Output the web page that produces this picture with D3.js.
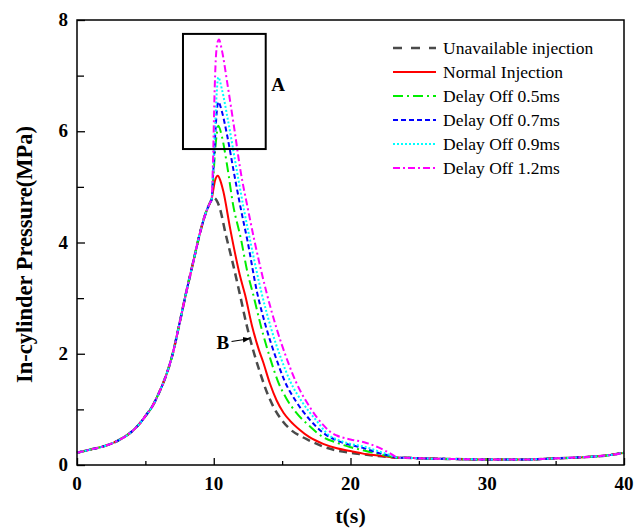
<!DOCTYPE html>
<html>
  <head>
    <meta charset="utf-8">
    <script src="https://cdn.jsdelivr.net/npm/d3@7"></script>
    <style>
      body { margin: 0; background: #fff; }
      text { font-family: "Liberation Serif", "Times New Roman", serif; }
    </style>
  </head>
  <body>
    <svg width="634" height="530"></svg>

    <script type="text/javascript">
      // legend labels, one per curve
      var names = ['Unavailable injection', 'Normal Injection', 'Delay Off 0.5ms',
                   'Delay Off 0.7ms', 'Delay Off 0.9ms', 'Delay Off 1.2ms'];

      // compression stroke, same for every curve (t, MPa)
      var rise = [[0,0.22],[1,0.28],[2,0.34],[3,0.44],[4,0.6],[4.6,0.75],[5,0.88],[5.5,1.05],
                  [6,1.3],[6.5,1.6],[7,2.0],[7.5,2.55],[8,3.12],[8.5,3.65],[9,4.18],
                  [9.4,4.52],[9.7,4.7],[9.84,4.77]];

      // each curve after the kink
      var unavailable = [[10.0,4.8],[10.4,4.65],[10.9,4.12],[11.4,3.62],[11.9,3.08],[12.4,2.52],
                         [12.9,2.05],[13.4,1.65],[13.9,1.3],[14.4,1.03],[15,0.8],[15.6,0.64],
                         [16.5,0.5],[17,0.44],[18,0.33],[19,0.26],[20,0.22],[21,0.19],[22,0.16],
                         [23,0.14],[23.5,0.13]];
      var normal = [[9.95,4.92],[10.1,5.12],[10.3,5.2],[10.5,5.1],[10.7,4.92],[11.2,4.25],
                    [11.9,3.42],[12.3,3.05],[12.8,2.5],[13.3,2.07],[13.6,1.86],[14.1,1.47],
                    [14.6,1.16],[15.1,0.94],[15.6,0.79],[16.3,0.63],[17,0.5],[18,0.38],[19,0.3],
                    [20,0.25],[21,0.2],[22,0.17],[23,0.14],[23.5,0.13]];
      var delay05 = [[9.95,5.1],[10.1,5.65],[10.22,5.95],[10.33,6.1],[10.6,5.9],[11.0,5.35],
                     [11.4,4.7],[12.0,4.05],[12.45,3.48],[12.9,3.05],[13.5,2.45],[14.16,1.89],
                     [14.7,1.5],[15.3,1.2],[16,0.95],[17,0.7],[18,0.5],[19,0.4],[20,0.32],
                     [21,0.26],[22,0.2],[23,0.15],[23.5,0.13]];
      var delay07 = [[9.95,5.2],[10.1,5.9],[10.22,6.35],[10.33,6.53],[10.6,6.35],[11.0,5.9],
                     [11.48,5.25],[12.0,4.58],[12.45,4.05],[13.18,3.09],[13.8,2.5],[14.6,1.89],
                     [15.2,1.5],[16,1.15],[17,0.82],[18,0.58],[19,0.44],[20,0.36],[21,0.3],
                     [22,0.22],[23,0.16],[23.5,0.13]];
      var delay09 = [[9.95,5.3],[10.1,6.1],[10.22,6.7],[10.33,6.97],[10.6,6.75],[11.0,6.25],
                     [11.72,5.25],[12.2,4.6],[12.65,4.05],[13.5,3.09],[14.2,2.45],[14.96,1.89],
                     [15.6,1.5],[16.5,1.12],[17.5,0.8],[18.5,0.52],[19,0.46],[20,0.38],
                     [21,0.33],[22,0.25],[23,0.17],[23.5,0.13]];
      var delay12 = [[9.95,5.5],[10.05,6.6],[10.15,7.3],[10.28,7.6],[10.38,7.65],[10.6,7.45],
                     [11.0,6.85],[11.5,6.05],[11.95,5.3],[12.5,4.6],[12.96,4.05],[13.87,3.09],
                     [14.6,2.45],[15.37,1.89],[16,1.5],[17,1.05],[18,0.72],[18.5,0.6],[19,0.53],
                     [20,0.46],[21,0.41],[22,0.32],[22.9,0.21],[23.5,0.13]];

      // exhaust / intake, same for every curve
      var tail = [[24,0.13],[25,0.12],[27,0.11],[30,0.1],[33,0.1],[35,0.12],[37,0.14],
                  [39,0.18],[40,0.22]];

      var xTicks = [0, 10, 20, 30, 40];
      var yTicks = [0, 2, 4, 6, 8];

      var series = [unavailable, normal, delay05, delay07, delay09, delay12].map(function(s) {
        return rise.concat(s).concat(tail);
      });

      var colors = ['#4a4a4a', '#ff0000', '#00ee00', '#0000ff', '#00ffff', '#ff00ff'];
      var dashes = ['8,5', null, '10,4,2,4', '5,3', '2,2', '7,3,2,3'];

      var margin = {left: 77, top: 20, right: 10, bottom: 65};
      var width = 624 - margin.left, height = 465 - margin.top;

      var svg = d3.select('svg');
      var g = svg.append('g').attr('transform', 'translate(' + margin.left + ',' + margin.top + ')');

      var x = d3.scaleLinear().domain([0, 40]).range([0, width]);
      var y = d3.scaleLinear().domain([0, 8]).range([height, 0]);

      // curves
      var line = d3.line()
        .x(function(d) { return x(d[0]); })
        .y(function(d) { return y(d[1]); })
        .curve(d3.curveMonotoneX);

      g.selectAll('path.curve')
        .data(series)
        .enter()
        .append('path')
        .attr('class', 'curve')
        .attr('d', line)
        .attr('fill', 'none')
        .attr('stroke', function(d, i) { return colors[i]; })
        .attr('stroke-width', function(d, i) { return i == 0 ? 2.5 : 2; })
        .attr('stroke-dasharray', function(d, i) { return dashes[i]; });

      // axes with inward ticks
      var xMinor = g.append('g').attr('transform', 'translate(0,' + height + ')')
        .call(d3.axisTop(x).tickValues(d3.range(5, 40, 10)).tickSize(4).tickFormat(''));
      var xAxis = g.append('g').attr('transform', 'translate(0,' + height + ')')
        .call(d3.axisTop(x).tickValues(xTicks).tickSize(7).tickFormat(''));
      var yMinor = g.append('g')
        .call(d3.axisRight(y).tickValues(d3.range(1, 8, 2)).tickSize(7).tickFormat(''));
      var yAxis = g.append('g')
        .call(d3.axisRight(y).tickValues(yTicks).tickSize(8).tickFormat(''));
      [xMinor, xAxis, yMinor, yAxis].forEach(function(a) {
        a.select('.domain').remove();
        a.selectAll('line').attr('stroke', '#000').attr('stroke-width', 1.3);
      });

      // tick labels
      g.selectAll('text.xl')
        .data(xTicks)
        .enter()
        .append('text')
        .attr('x', function(d) { return x(d); })
        .attr('y', height + 25)
        .attr('text-anchor', 'middle')
        .style('font-size', '19px')
        .style('font-weight', 'bold')
        .text(function(d) { return d; });

      g.selectAll('text.yl')
        .data(yTicks)
        .enter()
        .append('text')
        .attr('x', -9)
        .attr('y', function(d) { return y(d) + 6; })
        .attr('text-anchor', 'end')
        .style('font-size', '19px')
        .style('font-weight', 'bold')
        .text(function(d) { return d; });

      // frame
      g.append('rect')
        .attr('width', width)
        .attr('height', height)
        .attr('fill', 'none')
        .attr('stroke', '#000')
        .attr('stroke-width', 1.5);

      // axis titles
      svg.append('text')
        .attr('x', margin.left + width / 2)
        .attr('y', 523)
        .attr('text-anchor', 'middle')
        .style('font-size', '22px')
        .style('font-weight', 'bold')
        .text('t(s)');

      svg.append('text')
        .attr('transform', 'translate(32,' + (margin.top + height / 2 + 12) + ') rotate(-90)')
        .attr('text-anchor', 'middle')
        .style('font-size', '22.5px')
        .style('font-weight', 'bold')
        .text('In-cylinder Pressure(MPa)');

      // zoom box A
      g.append('rect')
        .attr('x', x(7.75))
        .attr('y', y(7.75))
        .attr('width', x(13.8) - x(7.75))
        .attr('height', y(5.68) - y(7.75))
        .attr('fill', 'none')
        .attr('stroke', '#000')
        .attr('stroke-width', 2);

      g.append('text')
        .attr('x', x(14.2))
        .attr('y', y(6.72))
        .style('font-size', '19px')
        .style('font-weight', 'bold')
        .text('A');

      // label B with arrow
      svg.append('defs').append('marker')
        .attr('id', 'arr')
        .attr('viewBox', '0 0 10 10')
        .attr('refX', 9).attr('refY', 5)
        .attr('markerWidth', 6).attr('markerHeight', 6)
        .attr('orient', 'auto')
        .append('path').attr('d', 'M0,1L10,5L0,9z').attr('fill', '#000');

      g.append('text')
        .attr('x', x(10.2))
        .attr('y', y(2.08))
        .style('font-size', '19px')
        .style('font-weight', 'bold')
        .text('B');

      g.append('line')
        .attr('x1', x(11.3)).attr('y1', y(2.22))
        .attr('x2', x(12.6)).attr('y2', y(2.27))
        .attr('stroke', '#000')
        .attr('stroke-width', 1.2)
        .attr('marker-end', 'url(#arr)');

      // legend
      var legend = svg.append('g').attr('transform', 'translate(393,48)');
      var rows = legend.selectAll('g')
        .data(names)
        .enter()
        .append('g')
        .attr('transform', function(d, i) { return 'translate(0,' + (i * 24) + ')'; });

      rows.append('line')
        .attr('x1', 0).attr('x2', 43)
        .attr('stroke', function(d, i) { return colors[i]; })
        .attr('stroke-width', function(d, i) { return i == 0 ? 2.5 : 2; })
        .attr('stroke-dasharray', function(d, i) { return i == 0 ? '9,9' : dashes[i]; });

      rows.append('text')
        .attr('x', 50)
        .attr('y', 6)
        .style('font-size', '17.5px')
        .text(function(d) { return d; });
    </script>
  </body>
</html>
